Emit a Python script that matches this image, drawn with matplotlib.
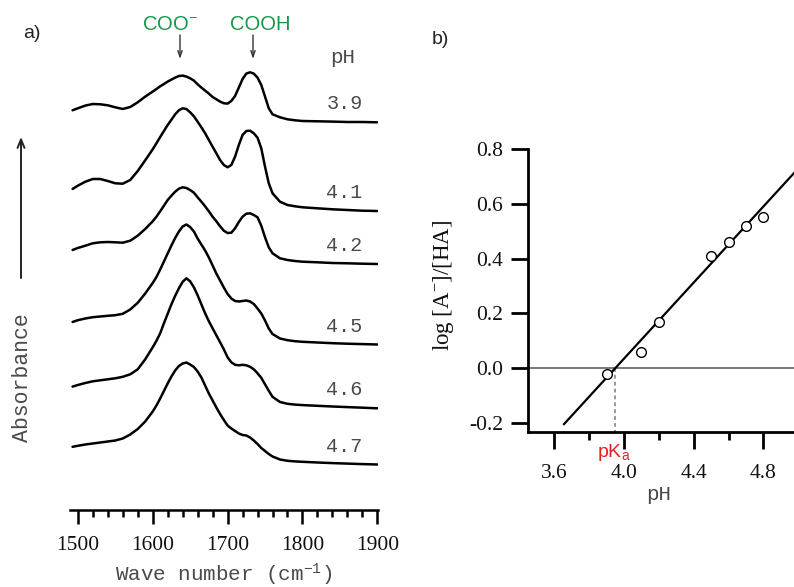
import matplotlib
matplotlib.use("Agg")
import matplotlib.pyplot as plt
from matplotlib.ticker import MultipleLocator
import numpy as np

plt.rcParams["font.family"] = ["Liberation Serif", "DejaVu Sans"]
plt.rcParams["mathtext.default"] = "regular"
plt.rcParams["axes.unicode_minus"] = False

# ---------------- data: IR spectra (panel a) ----------------
wavenumber = [1493, 1500, 1510, 1520, 1530, 1540, 1550, 1560, 1570, 1580, 1590,
              1600, 1605, 1610, 1615, 1620, 1625, 1630, 1635, 1640, 1645, 1650,
              1655, 1660, 1665, 1670, 1675, 1680, 1685, 1690, 1695, 1700, 1705,
              1710, 1715, 1720, 1725, 1730, 1735, 1740, 1745, 1750, 1755, 1760,
              1770, 1780, 1790, 1800, 1820, 1840, 1860, 1880, 1900]

abs_ph39 = [12, 14, 16.7, 18.3, 18, 17, 15, 13.3, 15.3, 20, 25.7,
            30.7, 33.3, 36, 38.3, 40.7, 42.7, 44.7, 46.3, 46.7, 45.7, 44,
            41.7, 38, 34.7, 31.7, 28.7, 25.3, 23, 20.7, 19, 18.7, 21.3,
            26.3, 34.7, 43.3, 48.7, 50, 48.7, 44.7, 37.3, 25.7, 14, 8,
            5, 3, 2, 1.3, 1, 0.7, 0.3, 0.3, 0]

abs_ph41 = [22, 25.3, 29.3, 32, 32, 30, 27.7, 27.3, 31, 40, 50.7,
            61.7, 67.7, 74, 80, 86, 91.3, 96.7, 100.7, 102.7, 102, 98.7,
            94.7, 89.3, 83.7, 77.7, 71, 64.3, 57.7, 51, 46, 43.7, 46,
            54.3, 66, 76, 80, 80.3, 77.7, 73.3, 62.7, 44.3, 27.7, 17.7,
            9.3, 6, 4.7, 3.7, 2.7, 1.7, 1, 0.3, 0]

abs_ph42 = [14, 16, 18.3, 20.7, 21.7, 22, 21.7, 21.3, 23.3, 28.3, 35,
            42.7, 47.3, 52.7, 58.3, 64, 68.3, 72.3, 75.3, 76.7, 76, 74,
            71.3, 66.7, 62.3, 57.7, 52.7, 47.3, 42.7, 37.7, 33.3, 31, 31.3,
            35.7, 42, 47.3, 50.3, 50.7, 49, 46.7, 38.3, 26.7, 16.7, 10.7,
            5.7, 4, 3, 2.3, 1.7, 1, 0.7, 0.3, 0]

abs_ph45 = [22.5, 24.3, 26, 27.3, 28, 28.7, 29.3, 30.7, 35, 41.7, 51,
            61.5, 67.5, 75, 83, 91, 99, 106.5, 113, 118, 120, 117.5,
            113, 106, 100, 94, 87, 79, 71, 64, 57, 50.5, 46,
            43.5, 43, 43.5, 44, 43, 40.5, 36, 31, 24, 16, 10.5,
            6, 4.3, 3.3, 2.7, 2, 1.3, 0.8, 0.4, 0]

abs_ph46 = [21.7, 23.3, 25.3, 27, 28, 29, 30, 31.5, 34, 39, 49,
            61, 67.5, 75, 85, 94.5, 104, 112.5, 120, 126.5, 130, 127,
            121, 113, 104, 95, 87, 80, 73, 66, 59, 51, 46,
            43.5, 43, 43.5, 43, 41.5, 39, 35, 30.5, 24, 17.5, 11.5,
            6.3, 4.5, 3.7, 3.2, 2.5, 1.8, 1.2, 0.6, 0]

abs_ph47 = [17.7, 18.7, 20, 21, 22, 23, 24, 26, 30, 35.5, 43,
            53, 59, 66, 73.5, 81, 88, 94, 98.5, 101, 102, 100,
            97.5, 93, 87, 79, 71, 64, 57, 50.5, 44.5, 39, 36,
            33.5, 31, 29.5, 29, 27, 24, 20.5, 16.5, 13.5, 10.5, 8,
            5, 3.7, 3.1, 2.7, 2, 1.4, 0.9, 0.4, 0]

spectrum_ph = ["3.9", "4.1", "4.2", "4.5", "4.6", "4.7"]
spectra = [abs_ph39, abs_ph41, abs_ph42, abs_ph45, abs_ph46, abs_ph47]

# ---------------- data: Henderson-Hasselbalch plot (panel b) ----------------
ph_values = [3.9, 4.1, 4.2, 4.5, 4.6, 4.7, 4.8]
log_ratio = [-0.02, 0.06, 0.17, 0.41, 0.46, 0.52, 0.55]
fit_slope = 0.694
pka = 3.95
fit_ph_range = [3.656, 5.05]

# ---------------- layout ----------------
W, H = 794, 587
fig = plt.figure(figsize=(W / 100, H / 100), dpi=100)


def fx(px):
    return px / W


def fy(py):
    return 1 - py / H


GRAY_TXT = "#4a4a4a"
MONO = "Liberation Mono"
SANS = "Liberation Sans"
TICK_SIZE = 15.5

# vertical stacking of the spectra
offsets = [387.7, 299, 246, 165.5, 101.7, 45.5]

ax_a = fig.add_axes([fx(69.8), fy(510), fx(378.1) - fx(69.8), fy(60) - fy(510)])
ax_a.set_xlim(1489.3, 1901)
ax_a.set_ylim(0, 450)

for values, off, ph in zip(spectra, offsets, spectrum_ph):
    ax_a.plot(wavenumber, np.asarray(values) + off, color="black", lw=1.8,
              solid_joinstyle="round", solid_capstyle="round")
    ax_a.text(1856, off + 13, ph, family=MONO, fontsize=14.5, color=GRAY_TXT,
              ha="center", va="baseline")

for side in ("left", "top", "right"):
    ax_a.spines[side].set_visible(False)
ax_a.spines["bottom"].set_linewidth(1.8)
ax_a.set_yticks([])
ax_a.xaxis.set_major_locator(MultipleLocator(100))
ax_a.xaxis.set_minor_locator(MultipleLocator(20))
ax_a.tick_params(axis="x", which="major", length=10, width=1.8, pad=9,
                 labelsize=TICK_SIZE, labelcolor="#111111")
ax_a.tick_params(axis="x", which="minor", length=5, width=1.8)

fig.text(fx(224), fy(575), "Wave number (cm$^{-1}$)", family=MONO, fontsize=15,
         color=GRAY_TXT, ha="center", va="center")
fig.text(fx(23), fy(378), "Absorbance", family=MONO, fontsize=15.5,
         color=GRAY_TXT, ha="center", va="center", rotation=90)
fig.text(fx(343), fy(63), "pH", family=MONO, fontsize=15, color=GRAY_TXT,
         ha="center", va="baseline")

ax_a.annotate("", xy=(fx(21), fy(137)), xytext=(fx(21), fy(278)),
              xycoords="figure fraction", textcoords="figure fraction",
              arrowprops=dict(arrowstyle="->,head_length=0.6,head_width=0.25",
                              lw=1.4, color="#222222", shrinkA=0, shrinkB=0),
              annotation_clip=False)

GREEN = "#14994a"
fig.text(fx(170), fy(25), "COO$^{-}$", family=SANS, fontsize=14.5, color=GREEN,
         ha="center", va="center")
fig.text(fx(260.5), fy(25), "COOH", family=SANS, fontsize=14.5, color=GREEN,
         ha="center", va="center")
for xa in (180, 253):
    ax_a.annotate("", xy=(fx(xa), fy(59)), xytext=(fx(xa), fy(35)),
                  xycoords="figure fraction", textcoords="figure fraction",
                  arrowprops=dict(arrowstyle="->,head_length=0.45,head_width=0.15",
                                  lw=1.0, color="#333333", shrinkA=0, shrinkB=0),
                  annotation_clip=False)

fig.text(fx(32), fy(33), "a)", family=SANS, fontsize=14, color="#222222",
         ha="center", va="center")
fig.text(fx(440), fy(40), "b)", family=SANS, fontsize=14, color="#222222",
         ha="center", va="center")

# ---------------- panel b ----------------
ax_b = fig.add_axes([fx(528), fy(432), 1 - fx(528), fy(149) - fy(432)])
ax_b.set_xlim(3.449, 4.976)
ax_b.set_ylim(-0.233, 0.8)

ax_b.axhline(0, color="#555555", lw=1.1, zorder=1)
ax_b.plot([pka, pka], [0, -0.233], color="#7a7a7a", lw=1.1,
          ls=(0, (2.5, 2)), zorder=1)
fit_x = np.asarray(fit_ph_range)
ax_b.plot(fit_x, fit_slope * (fit_x - pka), color="black", lw=1.6, zorder=2)
ax_b.plot(ph_values, log_ratio, "o", ms=7, mfc="white", mec="black", mew=1.0,
          zorder=3)

for side in ("top", "right"):
    ax_b.spines[side].set_visible(False)
for side in ("left", "bottom"):
    ax_b.spines[side].set_linewidth(2.0)

y_ticks = [-0.2, 0.0, 0.2, 0.4, 0.6, 0.8]
ax_b.set_yticks(y_ticks)
ax_b.set_yticklabels([f"{v:.1f}" for v in y_ticks])
x_major = [3.6, 4.0, 4.4, 4.8]
ax_b.set_xticks(x_major)
ax_b.set_xticklabels([f"{v:.1f}" for v in x_major])
ax_b.set_xticks([3.8, 4.2, 4.6], minor=True)
ax_b.tick_params(axis="y", length=12, width=2.0, pad=6, labelsize=TICK_SIZE,
                 labelcolor="#111111")
ax_b.tick_params(axis="x", which="major", length=12, width=2.0, pad=11,
                 labelsize=TICK_SIZE, labelcolor="#111111")
ax_b.tick_params(axis="x", which="minor", length=6, width=2.0)

fig.text(fx(443), fy(285), "log [A$^{-}$]/[HA]", fontsize=16.5, color="#111111",
         ha="center", va="center", rotation=90)
fig.text(fx(659), fy(495), "pH", family=MONO, fontsize=15, color=GRAY_TXT,
         ha="center", va="center")
fig.text(fx(614), fy(457), "pK$_a$", family=SANS, fontsize=14, color="#e0251f",
         ha="center", va="baseline")

fig.savefig("out.png", dpi=100)
